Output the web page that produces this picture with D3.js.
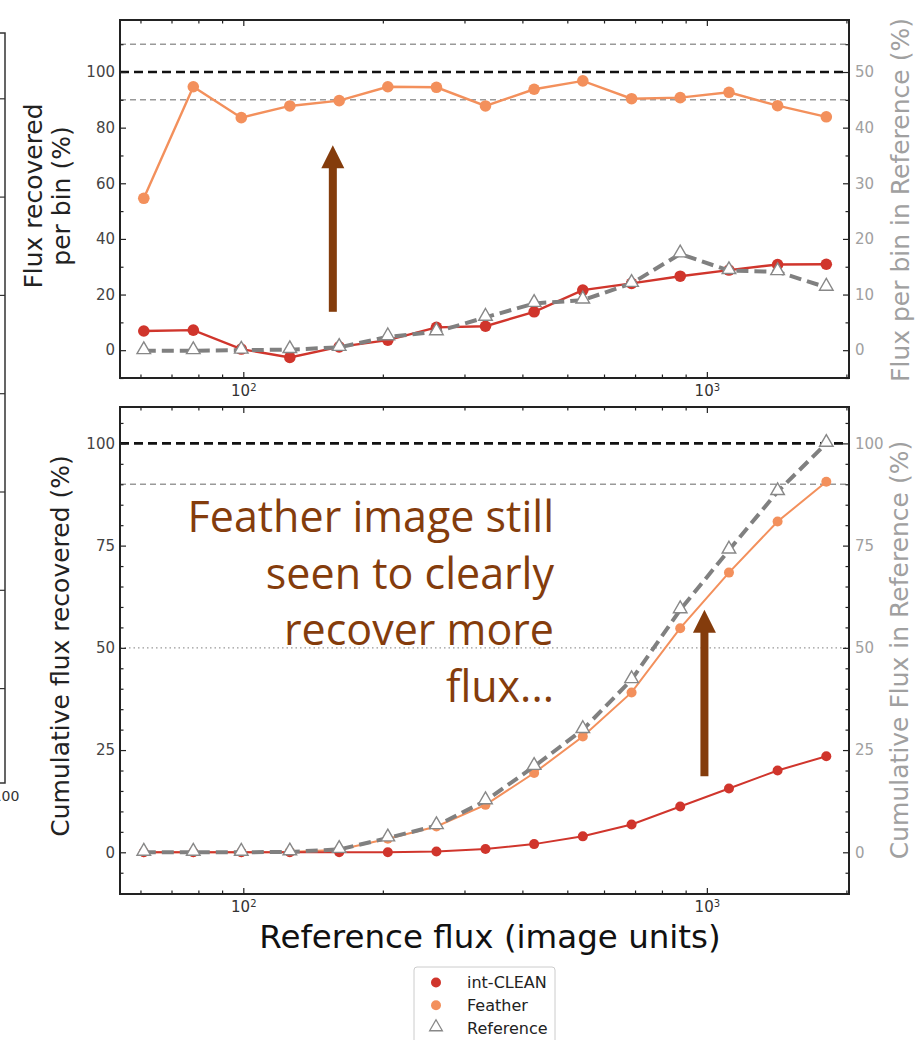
<!DOCTYPE html>
<html>
<head>
<meta charset="utf-8">
<script type="text/javascript" src="https://d3js.org/d3.v7.min.js"></script>
<title>Flux recovered</title>
<style>
  body { margin: 0; background: #fff; }
</style>
</head>
<body>
<div id="chart"></div>
<script type="text/javascript">

// bin centres (reference flux, image units)
var binFlux = [61, 78, 99, 126, 161, 205, 261, 333, 424, 540, 688, 876, 1116, 1421, 1810];

// top panel: flux recovered per bin (%) and reference flux per bin (%, right axis)
var cleanPerBin   = [6.9, 7.2, 0.4, -2.6, 1.2, 3.6, 8.2, 8.6, 13.8, 21.6, 24.0, 26.6, 28.8, 30.8, 30.9];
var featherPerBin = [54.6, 94.7, 83.6, 87.8, 89.7, 94.7, 94.5, 87.8, 93.8, 96.8, 90.4, 90.8, 92.7, 87.9, 83.9];
var refPerBin     = [-0.1, -0.1, 0.0, 0.1, 0.5, 2.4, 3.3, 5.9, 8.4, 9.0, 12.0, 17.3, 14.3, 14.1, 11.3];

// bottom panel: cumulative flux recovered (%) and cumulative reference flux (%)
var cleanCum   = [0, 0, 0, 0, 0, 0, 0.2, 0.8, 2.0, 3.9, 6.8, 11.2, 15.6, 20.0, 23.5];
var featherCum = [0, 0, 0, 0.1, 0.6, 3.3, 6.3, 11.6, 19.4, 28.3, 39.1, 54.8, 68.4, 80.9, 90.6];
var refCum     = [0, 0, 0, 0.1, 0.7, 3.5, 6.5, 12.6, 21.0, 30.0, 42.2, 59.3, 73.9, 88.2, 100];

// ticks
var xMajor = [100, 1000];
var xMinor = [60, 70, 80, 90, 200, 300, 400, 500, 600, 700, 800, 900, 2000];
var topLeftTicks  = [0, 20, 40, 60, 80, 100];
var topLeftMinor  = [-10, 10, 30, 50, 70, 90, 110];
var topRightTicks = [0, 10, 20, 30, 40, 50];
var topRightMinor = [-5, 5, 15, 25, 35, 45, 55];
var cumTicks = [0, 25, 50, 75, 100];
var cumMinor = [-10, -5, 5, 10, 15, 20, 30, 35, 40, 45, 55, 60, 65, 70, 80, 85, 90, 95, 105];

// reference levels
var topLevels = [{v: 110, k: "grey"}, {v: 100, k: "black"}, {v: 90, k: "grey"}];
var cumLevels = [{v: 100, k: "black"}, {v: 90, k: "grey"}, {v: 50, k: "dot"}];

// annotation
var noteLines = ["Feather image still", "seen to clearly", "recover more", "flux..."];
var topArrow = [156, 13.8, 73.7];   // x, from, to (left axis units)
var cumArrow = [988, 18.6, 59.3];

var legendItems = [
  {name: "int-CLEAN", kind: "dot", color: "#d0352c"},
  {name: "Feather", kind: "dot", color: "#f3905c"},
  {name: "Reference", kind: "tri", color: "#888"}
];

var RED = "#d0352c", ORANGE = "#f3905c", GREY = "#808080", BROWN = "#843C0C";
var FONT = "DejaVu Sans, sans-serif";

var svg = d3.select("#chart").append("svg")
    .attr("width", 915).attr("height", 1040);

var x = d3.scaleLog().domain([54.2, 2026]).range([120, 849]);

// cut-off neighbour panel at the left edge
var nb = d3.scaleLinear().domain([0, 8]).range([786.4, 0]);
var nbg = svg.append("g").attr("transform", "translate(5,0)");
nbg.call(d3.axisLeft(nb).tickValues([1, 2, 3, 4, 5, 6, 7]).tickSize(5).tickFormat(""));
nbg.select(".domain").remove();
nbg.selectAll(".tick line").attr("stroke", "#333").attr("stroke-width", 1.2);
svg.append("path").attr("d", "M0,33H5V783H0").attr("fill", "none")
   .attr("stroke", "#333").attr("stroke-width", 1.5);
svg.append("text").attr("x", 6).attr("y", 801).attr("text-anchor", "middle")
   .attr("font-family", FONT).attr("font-size", 14).attr("fill", "#333").text("100");

function styleAxis(g, col) {
  g.select(".domain").remove();
  g.attr("font-family", FONT).attr("font-size", 15);
  g.selectAll(".tick line").attr("stroke", "#222").attr("stroke-width", 1.2);
  g.selectAll(".tick text").attr("fill", col);
}

function drawPanel(p) {
  var y = d3.scaleLinear().domain(p.left).range([p.bottom, p.top]);
  var yr = d3.scaleLinear().domain(p.right).range([p.bottom, p.top]);
  var g = svg.append("g");

  // horizontal reference levels
  p.levels.forEach(function(l) {
    var ln = g.append("line").attr("x1", 120).attr("x2", 849)
        .attr("y1", y(l.v)).attr("y2", y(l.v));
    if (l.k == "black") ln.attr("stroke", "#111").attr("stroke-width", 2.6).attr("stroke-dasharray", "9,5");
    else if (l.k == "grey") ln.attr("stroke", "#999").attr("stroke-width", 1.5).attr("stroke-dasharray", "6,4");
    else ln.attr("stroke", "#999").attr("stroke-width", 1.4).attr("stroke-dasharray", "1.5,3");
  });

  var lineL = d3.line().x(function(d) { return x(d[0]); }).y(function(d) { return y(d[1]); });
  var lineR = d3.line().x(function(d) { return x(d[0]); }).y(function(d) { return yr(d[1]); });
  var zip = function(v) { return binFlux.map(function(f, i) { return [f, v[i]]; }); };

  g.append("path").datum(zip(p.feather)).attr("d", lineL).attr("fill", "none")
   .attr("stroke", ORANGE).attr("stroke-width", p.lw);
  g.selectAll(".fe").data(zip(p.feather)).enter().append("circle")
   .attr("cx", function(d) { return x(d[0]); }).attr("cy", function(d) { return y(d[1]); })
   .attr("r", p.r).attr("fill", ORANGE);

  g.append("path").datum(zip(p.clean)).attr("d", lineL).attr("fill", "none")
   .attr("stroke", RED).attr("stroke-width", p.lw);
  g.selectAll(".cl").data(zip(p.clean)).enter().append("circle")
   .attr("cx", function(d) { return x(d[0]); }).attr("cy", function(d) { return y(d[1]); })
   .attr("r", p.r).attr("fill", RED);

  g.append("path").datum(zip(p.ref)).attr("d", lineR).attr("fill", "none")
   .attr("stroke", GREY).attr("stroke-width", 4).attr("stroke-dasharray", "12,6");
  g.selectAll(".rf").data(zip(p.ref)).enter().append("path")
   .attr("transform", function(d) { return "translate(" + x(d[0]) + "," + (yr(d[1]) - 1) + ")"; })
   .attr("d", d3.symbol(d3.symbolTriangle, 80))
   .attr("fill", "#fff").attr("stroke", "#888").attr("stroke-width", 1.4);

  // axes, ticks pointing inwards
  var gl = svg.append("g").attr("transform", "translate(120,0)");
  gl.call(d3.axisLeft(y).tickValues(p.lTicks).tickSize(-6).tickPadding(5));
  styleAxis(gl, "#444");
  var glm = svg.append("g").attr("transform", "translate(120,0)");
  glm.call(d3.axisLeft(y).tickValues(p.lMinor).tickSize(-3.5).tickFormat(""));
  styleAxis(glm, "#444");

  var gr = svg.append("g").attr("transform", "translate(849,0)");
  gr.call(d3.axisRight(yr).tickValues(p.rTicks).tickSize(-6).tickPadding(6));
  styleAxis(gr, "#a0a0a0");
  var grm = svg.append("g").attr("transform", "translate(849,0)");
  grm.call(d3.axisRight(yr).tickValues(p.rMinor).tickSize(-3.5).tickFormat(""));
  styleAxis(grm, "#a0a0a0");

  var gb = svg.append("g").attr("transform", "translate(0," + p.bottom + ")");
  gb.call(d3.axisBottom(x).tickValues(xMajor).tickSize(-6).tickPadding(7).tickFormat(""));
  styleAxis(gb, "#333");
  gb.selectAll(".tick text").each(function(d) {
    var t = d3.select(this);
    t.text("10");
    t.append("tspan").attr("dy", "-0.45em").attr("font-size", 10).text(Math.round(Math.log10(d)));
  });
  var gbm = svg.append("g").attr("transform", "translate(0," + p.bottom + ")");
  gbm.call(d3.axisBottom(x).tickValues(xMinor).tickSize(-3.5).tickFormat(""));
  styleAxis(gbm, "#333");

  var gt = svg.append("g").attr("transform", "translate(0," + p.top + ")");
  gt.call(d3.axisTop(x).tickValues(xMajor).tickSize(-6).tickFormat(""));
  styleAxis(gt, "#333");
  var gtm = svg.append("g").attr("transform", "translate(0," + p.top + ")");
  gtm.call(d3.axisTop(x).tickValues(xMinor).tickSize(-3.5).tickFormat(""));
  styleAxis(gtm, "#333");

  svg.append("rect").attr("x", 120).attr("y", p.top)
     .attr("width", 729).attr("height", p.bottom - p.top)
     .attr("fill", "none").attr("stroke", "#222").attr("stroke-width", 2);

  return y;
}

var yTop = drawPanel({
  top: 20, bottom: 378, left: [-10, 118.7], right: [-5, 59.35],
  lTicks: topLeftTicks, lMinor: topLeftMinor, rTicks: topRightTicks, rMinor: topRightMinor,
  levels: topLevels, clean: cleanPerBin, feather: featherPerBin, ref: refPerBin, r: 5.8, lw: 2.4
});

var yCum = drawPanel({
  top: 407, bottom: 894, left: [-10.2, 108.9], right: [-10.2, 108.9],
  lTicks: cumTicks, lMinor: cumMinor, rTicks: cumTicks, rMinor: cumMinor,
  levels: cumLevels, clean: cleanCum, feather: featherCum, ref: refCum, r: 5, lw: 2
});

// axis titles
function vLabel(txt, xPos, yPos, col) {
  svg.append("text").attr("transform", "translate(" + xPos + "," + yPos + ") rotate(-90)")
     .attr("text-anchor", "middle").attr("font-family", FONT).attr("font-size", 25)
     .attr("fill", col).text(txt);
}
vLabel("Flux recovered", 42, 196, "#222");
vLabel("per bin (%)", 70, 196, "#222");
vLabel("Cumulative flux recovered (%)", 69, 646, "#222");
vLabel("Flux per bin in Reference (%)", 909, 200, "#a0a0a0");
vLabel("Cumulative Flux in Reference (%)", 908, 650, "#a0a0a0");

svg.append("text").attr("x", 490).attr("y", 948).attr("text-anchor", "middle")
   .attr("font-family", FONT).attr("font-size", 32.5).attr("fill", "#111")
   .text("Reference flux (image units)");

// arrows
function arrow(a, y) {
  var cx = x(a[0]), y0 = y(a[1]), y1 = y(a[2]);
  svg.append("rect").attr("x", cx - 4).attr("y", y1 + 22).attr("width", 8)
     .attr("height", y0 - y1 - 22).attr("fill", BROWN);
  svg.append("path").attr("d", "M" + (cx - 11.5) + "," + (y1 + 23) + "L" + cx + "," + y1 +
     "L" + (cx + 11.5) + "," + (y1 + 23) + "Z").attr("fill", BROWN);
}
arrow(topArrow, yTop);
arrow(cumArrow, yCum);

// annotation text
svg.append("g").selectAll("text").data(noteLines).enter().append("text")
   .attr("x", 554).attr("y", function(d, i) { return 532 + i * 56.7; })
   .attr("text-anchor", "end").attr("font-family", "Open Sans, sans-serif")
   .attr("font-size", 43).attr("fill", BROWN).text(function(d) { return d; });

// legend
var lg = svg.append("g");
lg.append("rect").attr("x", 414).attr("y", 967).attr("width", 141).attr("height", 90)
  .attr("rx", 3).attr("fill", "#fff").attr("stroke", "#ccc");
legendItems.forEach(function(it, i) {
  var yy = 982.5 + i * 22.8;
  if (it.kind == "dot") {
    lg.append("circle").attr("cx", 436).attr("cy", yy).attr("r", 5).attr("fill", it.color);
  } else {
    lg.append("path").attr("transform", "translate(436," + (yy - 1) + ")")
      .attr("d", d3.symbol(d3.symbolTriangle, 70)).attr("fill", "#fff")
      .attr("stroke", it.color).attr("stroke-width", 1.3);
  }
  lg.append("text").attr("x", 467).attr("y", yy).attr("dy", "0.36em")
    .attr("font-family", FONT).attr("font-size", 16).attr("fill", "#222").text(it.name);
});

</script>
</body>
</html>
